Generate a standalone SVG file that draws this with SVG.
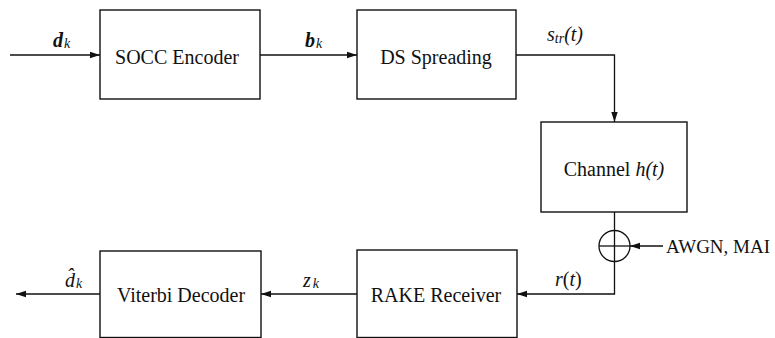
<svg xmlns="http://www.w3.org/2000/svg" width="775" height="338" viewBox="0 0 775 338">
<defs>
<style>
.box{fill:#fff;stroke:#111;stroke-width:1.4}
.ln{fill:none;stroke:#111;stroke-width:1.3}
.t{font-family:"Liberation Serif","Times New Roman",serif;font-size:20px;fill:#111}
.i{font-style:italic}
.b{font-weight:bold}
.sub{font-size:14px;font-style:italic}
</style>
<marker id="ah" markerWidth="10" markerHeight="8" refX="10" refY="4" orient="auto" markerUnits="userSpaceOnUse">
<path d="M0,0.8 L10,4 L0,7.2 Z" fill="#111"/>
</marker>
</defs>
<rect width="775" height="338" fill="#fff"/>
<g id="connectors">
<line class="ln" x1="10" y1="55" x2="100" y2="55" marker-end="url(#ah)"/>
<line class="ln" x1="260" y1="55" x2="357" y2="55" marker-end="url(#ah)"/>
<polyline class="ln" points="516,55 614.5,55 614.5,122" marker-end="url(#ah)"/>
<line class="ln" x1="614.5" y1="212" x2="614.5" y2="230.5"/>
<line class="ln" x1="663" y1="246" x2="630" y2="246" marker-end="url(#ah)"/>
<polyline class="ln" points="614.5,261.5 614.5,294 517,294" marker-end="url(#ah)"/>
<line class="ln" x1="357" y1="294" x2="261" y2="294" marker-end="url(#ah)"/>
<line class="ln" x1="100" y1="294" x2="16" y2="294" marker-end="url(#ah)"/>
<text class="t" x="53" y="47"><tspan class="b i">d</tspan><tspan class="sub" dx="1" dy="1">k</tspan></text>
<text class="t" x="305" y="47"><tspan class="b i">b</tspan><tspan class="sub" dx="1" dy="1">k</tspan></text>
<text class="t" x="547" y="41"><tspan class="i">s</tspan><tspan class="sub" dy="2">tr</tspan><tspan class="i" dy="-2">(t)</tspan></text>
<text class="t" x="555" y="286"><tspan class="i">r</tspan>(<tspan class="i">t</tspan>)</text>
<text class="t" x="303" y="287"><tspan class="i">z</tspan><tspan class="sub" dx="2" dy="1">k</tspan></text>
<text class="t" x="65" y="287"><tspan class="i">d̂</tspan><tspan class="sub" dx="1" dy="1">k</tspan></text>
<text class="t" x="666" y="253" style="font-size:19px">AWGN, MAI</text>
</g>
<g id="socc">
<rect class="box" x="100" y="10" width="160" height="89"/>
<text class="t" x="177" y="64" text-anchor="middle">SOCC Encoder</text>
</g>
<g id="ds">
<rect class="box" x="357" y="10" width="159" height="89"/>
<text class="t" x="436" y="64" text-anchor="middle">DS Spreading</text>
</g>
<g id="channel">
<rect class="box" x="541" y="122" width="146" height="90"/>
<text class="t" x="614" y="176" text-anchor="middle">Channel <tspan class="i">h(t)</tspan></text>
</g>
<g id="sum">
<circle class="ln" cx="614.5" cy="246" r="15.5"/>
<line class="ln" x1="599" y1="246" x2="630" y2="246"/>
<line class="ln" x1="614.5" y1="230.5" x2="614.5" y2="261.5"/>
</g>
<g id="rake">
<rect class="box" x="357" y="250" width="160" height="87.5"/>
<text class="t" x="436" y="302" text-anchor="middle">RAKE Receiver</text>
</g>
<g id="viterbi">
<rect class="box" x="100" y="251" width="161" height="86.5"/>
<text class="t" x="181" y="302" text-anchor="middle">Viterbi Decoder</text>
</g>
</svg>
